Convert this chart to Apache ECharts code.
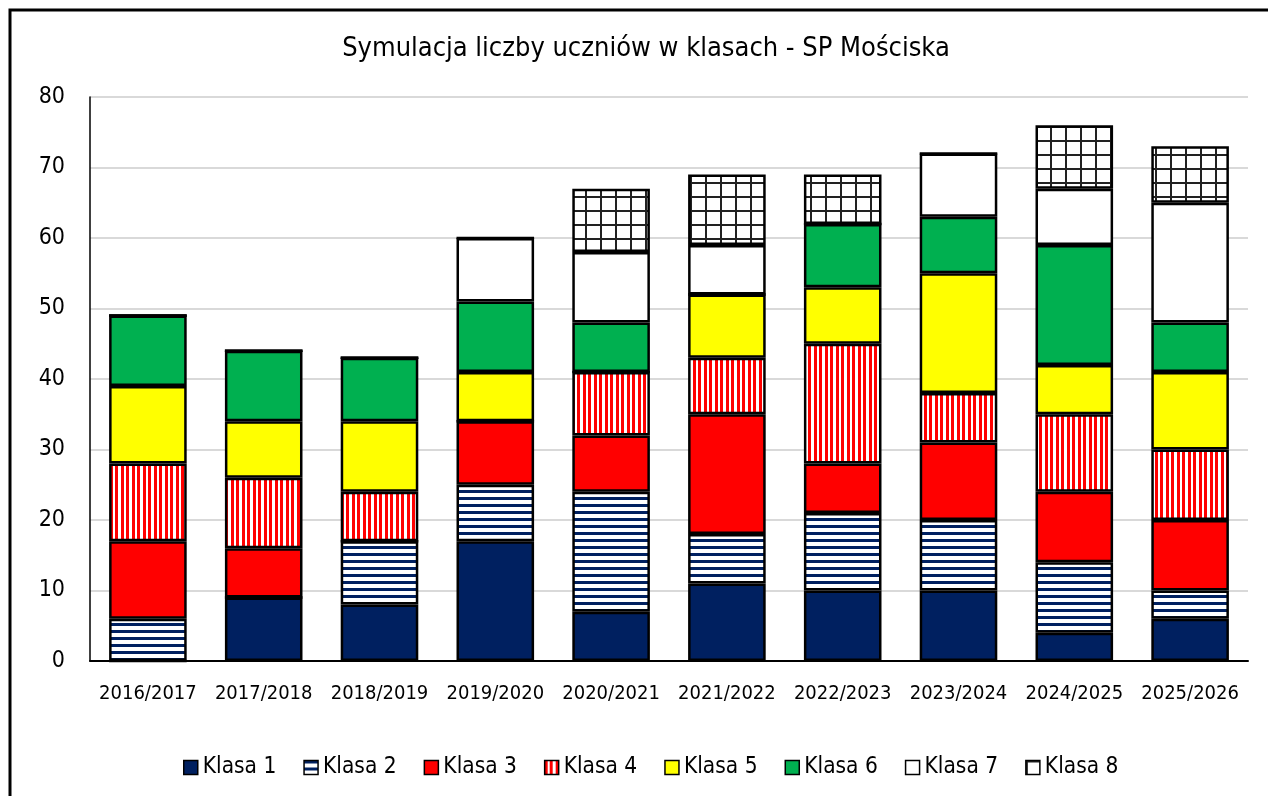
<!DOCTYPE html>
<html>
<head>
<meta charset="utf-8">
<title>Symulacja liczby uczniów</title>
<script src="https://cdn.jsdelivr.net/npm/echarts@6/dist/echarts.min.js"></script>
<style>
    html, body { margin: 0; padding: 0; background: #fff; }
    #chart { width: 1268px; height: 796px; }
</style>
</head>
<body>
<div id="chart"></div>
<script>
const years = ['2016/2017', '2017/2018', '2018/2019', '2019/2020', '2020/2021',
    '2021/2022', '2022/2023', '2023/2024', '2024/2025', '2025/2026'];

const klasa1 = [0, 9, 8, 17, 7, 11, 10, 10, 4, 6];
const klasa2 = [6, 0, 9, 8, 17, 7, 11, 10, 10, 4];
const klasa3 = [11, 7, 0, 9, 8, 17, 7, 11, 10, 10];
const klasa4 = [11, 10, 7, 0, 9, 8, 17, 7, 11, 10];
const klasa5 = [11, 8, 10, 7, 0, 9, 8, 17, 7, 11];
const klasa6 = [10, 10, 9, 10, 7, 0, 9, 8, 17, 7];
const klasa7 = [0, 0, 0, 9, 10, 7, 0, 9, 8, 17];
const klasa8 = [0, 0, 0, 0, 9, 10, 7, 0, 9, 8];

const seriesNames = ['Klasa 1', 'Klasa 2', 'Klasa 3', 'Klasa 4', 'Klasa 5', 'Klasa 6', 'Klasa 7', 'Klasa 8'];
const FONT = '"DejaVu Sans Condensed", "DejaVu Sans", sans-serif';

// small canvas tiles used as pattern fills
function makeTile(w, h, draw) {
    const c = document.createElement('canvas');
    c.width = w;
    c.height = h;
    const ctx = c.getContext('2d');
    ctx.fillStyle = '#fff';
    ctx.fillRect(0, 0, w, h);
    draw(ctx);
    return { image: c, repeat: 'repeat' };
}

const navyStripes = makeTile(8, 7, ctx => {
    ctx.fillStyle = '#002060';
    ctx.fillRect(0, 0, 8, 3);
});

const redStripes = makeTile(11, 8, ctx => {
    ctx.fillStyle = '#ff0000';
    ctx.fillRect(0, 0, 3, 8);
    ctx.fillRect(5, 0, 3, 8);
});

const blackGrid = makeTile(15, 14, ctx => {
    ctx.fillStyle = '#222';
    ctx.fillRect(0, 0, 2, 14);
    ctx.fillRect(0, 0, 15, 2);
});

const fills = ['#002060', navyStripes, '#ff0000', redStripes, '#ffff00', '#00b050', '#ffffff', blackGrid];
const values = [klasa1, klasa2, klasa3, klasa4, klasa5, klasa6, klasa7, klasa8];

const chart = echarts.init(document.getElementById('chart'));

chart.setOption({
    animation: false,
    textStyle: { fontFamily: FONT },
    title: {
        text: 'Symulacja liczby uczniów w klasach - SP Mościska',
        left: 641,
        top: 30,
        textAlign: 'center',
        textStyle: { fontFamily: FONT, fontSize: 27, fontWeight: 'normal', color: '#000' }
    },
    legend: {
        data: seriesNames,
        left: 178,
        top: 751,
        itemWidth: 14,
        itemHeight: 14,
        itemGap: 27,
        icon: 'rect',
        itemStyle: { borderColor: '#000', borderWidth: 1.5 },
        textStyle: { fontFamily: FONT, fontSize: 22.5, color: '#000' }
    },
    grid: { left: 90, right: 20, top: 97, bottom: 135, containLabel: false },
    xAxis: {
        type: 'category',
        data: years,
        axisLine: { lineStyle: { color: '#000', width: 2 } },
        axisTick: { show: false },
        axisLabel: { color: '#000', fontFamily: FONT, fontSize: 20, margin: 23, interval: 0 }
    },
    yAxis: {
        type: 'value',
        min: 0,
        max: 80,
        interval: 10,
        axisLine: { show: true, lineStyle: { color: '#000', width: 1.5 } },
        axisTick: { show: false },
        axisLabel: { color: '#000', fontFamily: FONT, fontSize: 23, margin: 25 },
        splitLine: { lineStyle: { color: '#d9d9d9', width: 2 } }
    },
    graphic: [{
        type: 'rect',
        shape: { x: 10, y: 10, width: 1400, height: 1000 },
        style: { fill: null, stroke: '#000', lineWidth: 3 },
        silent: true
    }],
    series: seriesNames.map((name, i) => ({
        name: name,
        type: 'bar',
        stack: 'total',
        barCategoryGap: '33%',
        data: values[i],
        itemStyle: { color: fills[i], borderColor: '#000', borderWidth: 2.5 }
    }))
});
</script>
</body>
</html>
